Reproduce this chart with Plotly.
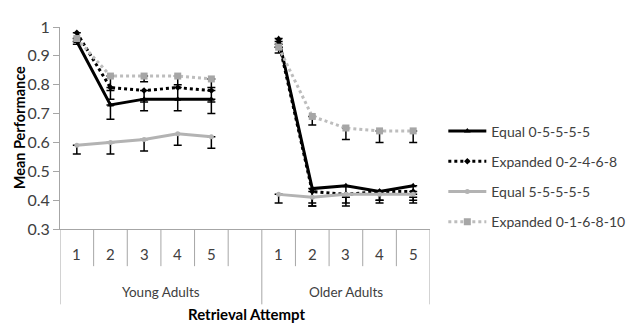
import plotly.graph_objects as go

# ---- data ----
groups = ["Young Adults", "Older Adults"]
attempts = ["1", "2", "3", "4", "5"]
series_names = ["Equal 0-5-5-5-5", "Expanded 0-2-4-6-8", "Equal 5-5-5-5-5", "Expanded 0-1-6-8-10"]

young_equal_05555 = [0.95, 0.73, 0.75, 0.75, 0.75]
young_exp_02468 = [0.98, 0.79, 0.78, 0.79, 0.78]
young_equal_55555 = [0.59, 0.60, 0.61, 0.63, 0.62]
young_exp_016810 = [0.96, 0.83, 0.83, 0.83, 0.82]

older_equal_05555 = [0.96, 0.44, 0.45, 0.43, 0.45]
older_exp_02468 = [0.95, 0.43, 0.42, 0.43, 0.43]
older_equal_55555 = [0.42, 0.41, 0.42, 0.42, 0.42]
older_exp_016810 = [0.93, 0.69, 0.65, 0.64, 0.64]

# minus-only error bars (SE)
young_err_equal_05555 = [0.01, 0.05, 0.04, 0.04, 0.05]
young_err_exp_02468 = [0.02, 0.04, 0.04, 0.04, 0.04]
young_err_equal_55555 = [0.03, 0.04, 0.04, 0.04, 0.04]
young_err_exp_016810 = [0.01, 0.05, 0.02, 0.03, 0.03]

older_err_equal_05555 = [0.02, 0.06, 0.04, 0.03, 0.04]
older_err_exp_02468 = [0.02, 0.04, 0.04, 0.04, 0.04]
older_err_equal_55555 = [0.03, 0.03, 0.03, 0.02, 0.02]
older_err_exp_016810 = [0.02, 0.03, 0.04, 0.04, 0.04]

y_ticks = [0.3, 0.4, 0.5, 0.6, 0.7, 0.8, 0.9, 1.0]
y_tick_labels = ["0.3", "0.4", "0.5", "0.6", "0.7", "0.8", "0.9", "1"]

# ---- build ----
n = len(attempts)
x_pos = list(range(n)) + [n] + list(range(n + 1, 2 * n + 1))  # gap slot at index n

def join(a, b):
    return list(a) + [None] + list(b)

def join_err(a, b):
    return list(a) + [0] + list(b)

ys = [
    join(young_equal_05555, older_equal_05555),
    join(young_exp_02468, older_exp_02468),
    join(young_equal_55555, older_equal_55555),
    join(young_exp_016810, older_exp_016810),
]
errs = [
    join_err(young_err_equal_05555, older_err_equal_05555),
    join_err(young_err_exp_02468, older_err_exp_02468),
    join_err(young_err_equal_55555, older_err_equal_55555),
    join_err(young_err_exp_016810, older_err_exp_016810),
]
styles = [
    dict(color="black", dash="solid", width=3, symbol="triangle-up", msize=6, mcolor="black"),
    dict(color="black", dash="dot", width=3, symbol="diamond", msize=5, mcolor="black"),
    dict(color="#b3b3b3", dash="solid", width=3, symbol="circle", msize=5, mcolor="#b3b3b3"),
    dict(color="#bdbdbd", dash="dot", width=3, symbol="square", msize=7, mcolor="#a6a6a6"),
]

FONT = "Lato, 'Open Sans', sans-serif"
TXT = "#404040"

fig = go.Figure()
for name, y, e, s in zip(series_names, ys, errs, styles):
    fig.add_trace(go.Scatter(
        x=x_pos, y=y, name=name, mode="lines+markers", connectgaps=False,
        legendgroup=name,
        line=dict(color=s["color"], dash=s["dash"], width=s["width"]),
        marker=dict(symbol=s["symbol"], size=s["msize"], color=s["mcolor"]),
        error_y=dict(type="data", symmetric=False, array=[0] * len(e), arrayminus=e,
                     color="black", thickness=1.5, width=4),
    ))

shapes = []
for k in range(2 * n + 2):
    xv = k - 0.5
    long = k in (0, n + 1, 2 * n + 1)
    shapes.append(dict(type="line", xref="x", yref="paper", x0=xv, x1=xv,
                       y0=0, y1=-0.373 if long else -0.184,
                       line=dict(color="#a6a6a6", width=1)))

group_centers = [n / 2, (n + 1 + 2 * n) / 2]  # young spans 6 slots (incl. gap), older 5
annotations = []
for gi, g in enumerate(groups):
    for ai, a in enumerate(attempts):
        annotations.append(dict(x=gi * (n + 1) + ai, y=-0.123, xref="x", yref="paper",
                                xanchor="center", yanchor="middle",
                                text=a, showarrow=False, font=dict(size=15, color=TXT, family=FONT)))
    annotations.append(dict(x=group_centers[gi], y=-0.311, xref="x", yref="paper",
                            xanchor="center", yanchor="middle",
                            text=g, showarrow=False, font=dict(size=13.5, color=TXT, family=FONT)))
annotations.append(dict(x=0.505, y=-0.42, xref="paper", yref="paper", text="<b>Retrieval Attempt</b>",
                        xanchor="center", yanchor="middle",
                        showarrow=False, font=dict(size=15, color="black", family=FONT)))
annotations.append(dict(x=-0.11, y=0.5, xref="paper", yref="paper", text="<b>Mean Performance</b>",
                        xanchor="center", yanchor="middle",
                        textangle=-90, showarrow=False, font=dict(size=14.5, color="black", family=FONT)))

fig.update_layout(
    width=631, height=321,
    margin=dict(l=52, r=204, t=9, b=100),
    paper_bgcolor="white", plot_bgcolor="white",
    showlegend=True,
    legend=dict(x=1.036, y=0.26, xanchor="left", yanchor="middle",
                font=dict(size=14, color=TXT, family=FONT), itemwidth=38,
                tracegroupgap=9, bgcolor="rgba(0,0,0,0)"),
    shapes=shapes, annotations=annotations,
    xaxis=dict(range=[-0.5, 2 * n + 0.5], showticklabels=False, ticks="", showgrid=False,
               zeroline=False, showline=True, linecolor="#a6a6a6", linewidth=1),
    yaxis=dict(range=[0.3, 1.0], tickvals=y_ticks, ticktext=y_tick_labels, ticks="outside",
               ticklen=6, tickcolor="#a6a6a6", showgrid=False, zeroline=False,
               showline=True, linecolor="#a6a6a6", linewidth=1, ticklabeloverflow="allow",
               tickfont=dict(size=16, color=TXT, family=FONT)),
)

fig.write_html("out.html")
